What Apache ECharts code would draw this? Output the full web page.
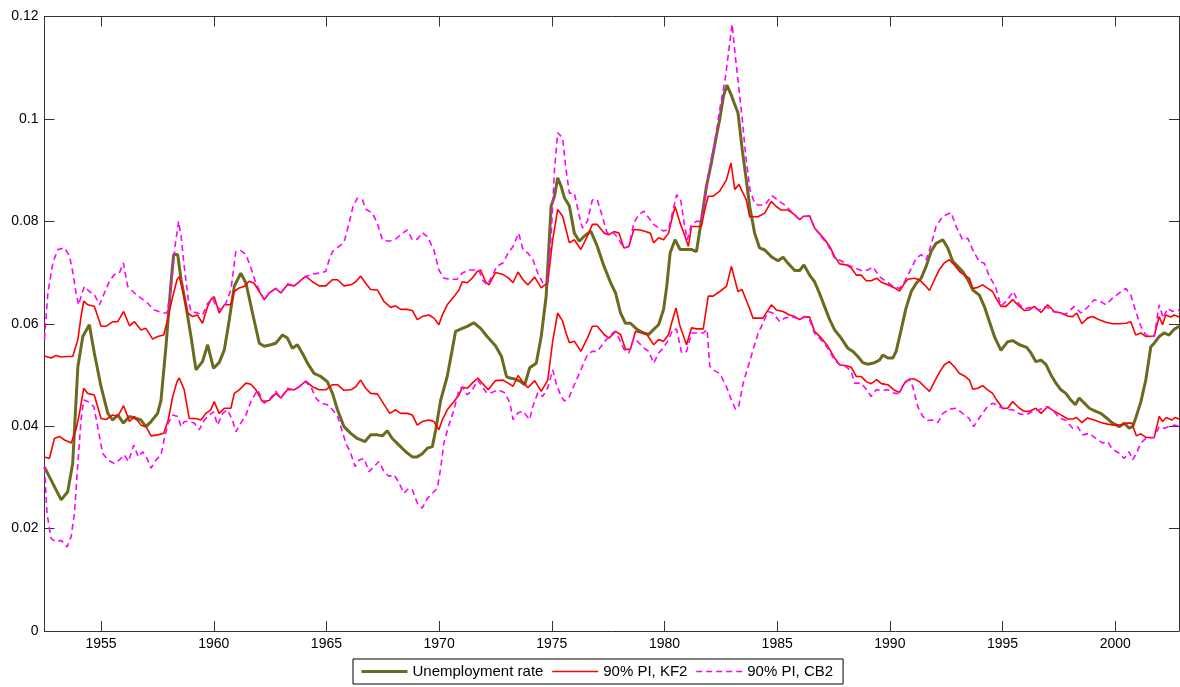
<!DOCTYPE html>
<html>
<head>
<meta charset="utf-8">
<script src="https://cdn.jsdelivr.net/npm/echarts@6/dist/echarts.min.js"></script>
<style>
  html, body { margin: 0; padding: 0; background: #fff; }
  #chart { width: 1180px; height: 687px; }
</style>
</head>
<body>
<div id="chart"></div>
<script>
// Quarterly-ish readings: [year, rate]
const unemploymentRate = [
  [1952.49,0.0320],[1953.23,0.0256],[1953.52,0.0272],[1953.74,0.0327],[1953.97,0.0516],[1954.19,0.0575],
  [1954.48,0.0598],[1954.70,0.0543],[1955.00,0.0477],[1955.30,0.0425],[1955.52,0.0412],[1955.74,0.0422],
  [1955.99,0.0406],[1956.26,0.0419],[1956.55,0.0415],[1956.77,0.0412],[1956.99,0.0399],[1957.22,0.0409],
  [1957.51,0.0425],[1957.66,0.0451],[1957.88,0.0556],[1958.10,0.0679],[1958.22,0.0735],[1958.40,0.0735],
  [1958.55,0.0686],[1958.77,0.0634],[1958.99,0.0575],[1959.21,0.0510],[1959.50,0.0526],[1959.73,0.0559],
  [1959.99,0.0513],[1960.24,0.0524],[1960.47,0.0549],[1960.69,0.0608],[1960.91,0.0673],[1961.20,0.0699],
  [1961.43,0.0679],[1961.72,0.0621],[1962.02,0.0562],[1962.24,0.0556],[1962.53,0.0559],[1962.75,0.0562],
  [1963.05,0.0578],[1963.27,0.0572],[1963.49,0.0552],[1963.71,0.0559],[1963.94,0.0542],[1964.16,0.0523],
  [1964.45,0.0503],[1964.75,0.0497],[1965.04,0.0487],[1965.27,0.0464],[1965.49,0.0432],[1965.78,0.0399],
  [1966.08,0.0386],[1966.37,0.0376],[1966.71,0.0370],[1966.96,0.0383],[1967.26,0.0383],[1967.48,0.0381],
  [1967.70,0.0391],[1967.92,0.0376],[1968.22,0.0363],[1968.52,0.0350],[1968.81,0.0340],[1969.03,0.0340],
  [1969.25,0.0346],[1969.48,0.0357],[1969.70,0.0360],[1969.85,0.0393],[1970.07,0.0451],[1970.36,0.0497],
  [1970.58,0.0549],[1970.73,0.0585],[1971.03,0.0591],[1971.25,0.0595],[1971.54,0.0602],[1971.84,0.0591],
  [1972.13,0.0575],[1972.50,0.0557],[1972.77,0.0536],[1972.99,0.0497],[1973.14,0.0494],[1973.36,0.0492],
  [1973.58,0.0488],[1973.80,0.0481],[1974.02,0.0514],[1974.31,0.0523],[1974.53,0.0575],[1974.75,0.0654],
  [1974.97,0.0830],[1975.12,0.0849],[1975.26,0.0885],[1975.41,0.0869],[1975.56,0.0846],[1975.78,0.0830],
  [1976.00,0.0777],[1976.22,0.0761],[1976.44,0.0771],[1976.73,0.0781],[1977.02,0.0751],[1977.32,0.0712],
  [1977.61,0.0680],[1977.83,0.0660],[1978.05,0.0621],[1978.27,0.0601],[1978.49,0.0601],[1978.78,0.0589],
  [1979.08,0.0582],[1979.30,0.0579],[1979.52,0.0589],[1979.74,0.0598],[1979.96,0.0628],[1980.10,0.0673],
  [1980.25,0.0738],[1980.47,0.0764],[1980.69,0.0745],[1980.98,0.0745],[1981.20,0.0745],[1981.42,0.0741],
  [1981.64,0.0803],[1981.86,0.0868],[1982.08,0.0914],[1982.30,0.0966],[1982.45,0.0999],[1982.62,0.1045],
  [1982.77,0.1066],[1982.95,0.1048],[1983.10,0.1030],[1983.26,0.1012],[1983.45,0.0940],[1983.63,0.0881],
  [1983.78,0.0829],[1984.00,0.0777],[1984.22,0.0748],[1984.45,0.0744],[1984.74,0.0731],[1985.04,0.0723],
  [1985.26,0.0730],[1985.48,0.0718],[1985.78,0.0704],[1986.00,0.0704],[1986.19,0.0715],[1986.44,0.0695],
  [1986.66,0.0682],[1986.88,0.0659],[1987.10,0.0634],[1987.33,0.0608],[1987.55,0.0588],[1987.84,0.0572],
  [1988.14,0.0552],[1988.36,0.0546],[1988.58,0.0536],[1988.80,0.0524],[1989.02,0.0521],[1989.32,0.0524],
  [1989.54,0.0529],[1989.69,0.0539],[1989.91,0.0533],[1990.13,0.0533],[1990.28,0.0546],[1990.50,0.0588],
  [1990.72,0.0631],[1990.95,0.0663],[1991.17,0.0679],[1991.39,0.0689],[1991.61,0.0712],[1991.83,0.0741],
  [1992.05,0.0757],[1992.35,0.0764],[1992.57,0.0748],[1992.79,0.0722],[1993.01,0.0712],[1993.23,0.0702],
  [1993.46,0.0686],[1993.68,0.0666],[1993.97,0.0656],[1994.19,0.0634],[1994.42,0.0604],[1994.64,0.0575],
  [1994.93,0.0548],[1995.23,0.0565],[1995.45,0.0567],[1995.75,0.0559],[1996.07,0.0554],[1996.26,0.0543],
  [1996.48,0.0526],[1996.71,0.0529],[1996.93,0.0520],[1997.15,0.0500],[1997.37,0.0484],[1997.59,0.0471],
  [1997.81,0.0464],[1998.03,0.0451],[1998.23,0.0442],[1998.40,0.0455],[1998.63,0.0445],[1998.85,0.0435],
  [1999.14,0.0429],[1999.36,0.0425],[1999.59,0.0417],[1999.88,0.0406],[2000.18,0.0399],[2000.40,0.0406],
  [2000.62,0.0396],[2000.77,0.0399],[2000.91,0.0416],[2001.14,0.0448],[2001.36,0.0491],[2001.58,0.0555],
  [2001.73,0.0562],[2001.95,0.0575],[2002.17,0.0582],[2002.39,0.0578],[2002.61,0.0589],[2002.83,0.0595]
];

// 90% prediction interval, KF2: upper bound
const kf2Upper = [
  [1952.49,0.0537],[1952.78,0.0533],[1953.00,0.0538],[1953.23,0.0535],[1953.52,0.0536],[1953.74,0.0536],
  [1953.97,0.0569],[1954.11,0.0614],[1954.23,0.0644],[1954.41,0.0637],[1954.70,0.0634],[1955.00,0.0595],
  [1955.22,0.0595],[1955.52,0.0604],[1955.74,0.0604],[1956.00,0.0624],[1956.26,0.0596],[1956.48,0.0604],
  [1956.77,0.0588],[1956.99,0.0591],[1957.29,0.0570],[1957.51,0.0575],[1957.78,0.0578],[1957.95,0.0608],
  [1958.18,0.0653],[1958.37,0.0686],[1958.47,0.0692],[1958.62,0.0666],[1958.84,0.0621],[1959.06,0.0614],
  [1959.28,0.0617],[1959.50,0.0601],[1959.73,0.0634],[1959.87,0.0647],[1960.02,0.0653],[1960.24,0.0621],
  [1960.47,0.0637],[1960.76,0.0637],[1960.91,0.0663],[1961.13,0.0670],[1961.35,0.0673],[1961.57,0.0683],
  [1961.79,0.0679],[1962.02,0.0663],[1962.24,0.0647],[1962.46,0.0660],[1962.75,0.0669],[1962.98,0.0660],
  [1963.27,0.0676],[1963.57,0.0674],[1963.79,0.0682],[1964.08,0.0693],[1964.38,0.0682],[1964.68,0.0674],
  [1964.97,0.0674],[1965.27,0.0686],[1965.49,0.0686],[1965.78,0.0674],[1966.08,0.0676],[1966.30,0.0682],
  [1966.52,0.0693],[1966.74,0.0679],[1966.96,0.0667],[1967.26,0.0666],[1967.56,0.0643],[1967.85,0.0632],
  [1968.07,0.0635],[1968.29,0.0628],[1968.59,0.0628],[1968.81,0.0626],[1969.03,0.0608],[1969.25,0.0614],
  [1969.55,0.0617],[1969.77,0.0611],[1969.99,0.0598],[1970.14,0.0617],[1970.36,0.0637],[1970.66,0.0653],
  [1970.88,0.0666],[1971.03,0.0682],[1971.25,0.0680],[1971.47,0.0689],[1971.69,0.0702],[1971.84,0.0705],
  [1972.06,0.0682],[1972.21,0.0676],[1972.50,0.0700],[1972.84,0.0696],[1973.06,0.0690],[1973.28,0.0680],
  [1973.50,0.0701],[1973.72,0.0686],[1973.94,0.0676],[1974.24,0.0691],[1974.53,0.0670],[1974.82,0.0680],
  [1975.04,0.0764],[1975.26,0.0823],[1975.48,0.0810],[1975.63,0.0784],[1975.78,0.0758],[1976.00,0.0764],
  [1976.29,0.0745],[1976.58,0.0771],[1976.80,0.0794],[1977.02,0.0794],[1977.32,0.0777],[1977.54,0.0774],
  [1977.76,0.0780],[1977.98,0.0777],[1978.20,0.0748],[1978.42,0.0751],[1978.64,0.0784],[1978.93,0.0783],
  [1979.15,0.0780],[1979.37,0.0777],[1979.52,0.0758],[1979.74,0.0768],[1979.96,0.0764],[1980.18,0.0777],
  [1980.32,0.0803],[1980.47,0.0829],[1980.69,0.0797],[1980.91,0.0771],[1981.06,0.0751],[1981.20,0.0790],
  [1981.42,0.0790],[1981.64,0.0790],[1981.79,0.0823],[1981.94,0.0849],[1982.16,0.0849],[1982.45,0.0859],
  [1982.75,0.0881],[1982.95,0.0914],[1983.12,0.0862],[1983.30,0.0872],[1983.63,0.0842],[1983.78,0.0809],
  [1984.15,0.0809],[1984.45,0.0816],[1984.74,0.0839],[1984.96,0.0829],[1985.18,0.0822],[1985.48,0.0822],
  [1985.77,0.0813],[1986.00,0.0803],[1986.14,0.0809],[1986.44,0.0811],[1986.66,0.0787],[1986.88,0.0776],
  [1987.10,0.0765],[1987.33,0.0751],[1987.55,0.0731],[1987.77,0.0717],[1988.06,0.0715],[1988.29,0.0709],
  [1988.51,0.0695],[1988.73,0.0695],[1988.95,0.0684],[1989.17,0.0684],[1989.42,0.0689],[1989.62,0.0681],
  [1989.91,0.0676],[1990.21,0.0670],[1990.43,0.0664],[1990.65,0.0679],[1990.80,0.0687],[1991.09,0.0689],
  [1991.31,0.0686],[1991.54,0.0676],[1991.76,0.0665],[1991.98,0.0686],[1992.20,0.0706],[1992.42,0.0719],
  [1992.64,0.0725],[1992.86,0.0715],[1993.09,0.0702],[1993.31,0.0695],[1993.53,0.0689],[1993.68,0.0669],
  [1993.90,0.0671],[1994.12,0.0676],[1994.34,0.0669],[1994.56,0.0663],[1994.71,0.0650],[1994.93,0.0634],
  [1995.15,0.0634],[1995.45,0.0647],[1995.75,0.0634],[1995.97,0.0626],[1996.19,0.0627],[1996.41,0.0634],
  [1996.71,0.0622],[1997.00,0.0637],[1997.30,0.0624],[1997.59,0.0621],[1997.89,0.0615],[1998.11,0.0614],
  [1998.29,0.0621],[1998.52,0.0600],[1998.77,0.0611],[1998.99,0.0614],[1999.29,0.0608],[1999.59,0.0603],
  [1999.88,0.0600],[2000.18,0.0600],[2000.47,0.0601],[2000.69,0.0604],[2000.91,0.0578],[2001.14,0.0582],
  [2001.36,0.0575],[2001.73,0.0576],[2001.95,0.0614],[2002.10,0.0598],[2002.24,0.0617],[2002.47,0.0613],
  [2002.61,0.0617],[2002.83,0.0613]
];

// 90% prediction interval, KF2: lower bound
const kf2Lower = [
  [1952.49,0.0340],[1952.71,0.0337],[1952.93,0.0376],[1953.15,0.0380],[1953.38,0.0373],[1953.67,0.0367],
  [1953.89,0.0393],[1954.04,0.0425],[1954.23,0.0474],[1954.41,0.0464],[1954.70,0.0461],[1955.00,0.0415],
  [1955.22,0.0413],[1955.52,0.0422],[1955.74,0.0419],[1956.00,0.0440],[1956.26,0.0409],[1956.48,0.0419],
  [1956.77,0.0402],[1956.99,0.0399],[1957.22,0.0381],[1957.51,0.0383],[1957.78,0.0386],[1957.98,0.0412],
  [1958.18,0.0458],[1958.37,0.0487],[1958.47,0.0494],[1958.69,0.0471],[1958.91,0.0415],[1959.21,0.0415],
  [1959.43,0.0412],[1959.65,0.0425],[1959.87,0.0432],[1960.02,0.0448],[1960.24,0.0425],[1960.47,0.0435],
  [1960.76,0.0435],[1960.91,0.0464],[1961.13,0.0471],[1961.43,0.0484],[1961.65,0.0482],[1961.87,0.0471],
  [1962.16,0.0448],[1962.46,0.0450],[1962.75,0.0464],[1962.98,0.0455],[1963.27,0.0471],[1963.57,0.0471],
  [1963.79,0.0477],[1964.08,0.0488],[1964.38,0.0477],[1964.68,0.0471],[1964.97,0.0471],[1965.27,0.0481],
  [1965.49,0.0481],[1965.78,0.0470],[1966.08,0.0471],[1966.30,0.0477],[1966.52,0.0490],[1966.74,0.0474],
  [1966.96,0.0464],[1967.26,0.0463],[1967.56,0.0442],[1967.81,0.0425],[1968.07,0.0432],[1968.29,0.0425],
  [1968.59,0.0425],[1968.81,0.0422],[1969.03,0.0402],[1969.25,0.0409],[1969.55,0.0412],[1969.77,0.0409],
  [1969.99,0.0393],[1970.14,0.0412],[1970.36,0.0432],[1970.66,0.0448],[1970.88,0.0461],[1971.03,0.0476],
  [1971.25,0.0474],[1971.47,0.0484],[1971.72,0.0494],[1971.91,0.0484],[1972.18,0.0471],[1972.50,0.0489],
  [1972.84,0.0490],[1973.06,0.0484],[1973.28,0.0478],[1973.50,0.0499],[1973.72,0.0486],[1973.94,0.0475],
  [1974.24,0.0489],[1974.53,0.0468],[1974.82,0.0490],[1975.04,0.0566],[1975.26,0.0621],[1975.48,0.0605],
  [1975.63,0.0582],[1975.78,0.0563],[1976.00,0.0566],[1976.29,0.0546],[1976.58,0.0572],[1976.80,0.0595],
  [1977.02,0.0595],[1977.32,0.0579],[1977.54,0.0572],[1977.83,0.0585],[1978.05,0.0579],[1978.27,0.0550],
  [1978.49,0.0550],[1978.71,0.0585],[1979.00,0.0582],[1979.22,0.0579],[1979.52,0.0559],[1979.74,0.0569],
  [1979.96,0.0566],[1980.18,0.0579],[1980.32,0.0602],[1980.51,0.0631],[1980.69,0.0595],[1980.98,0.0559],
  [1981.20,0.0592],[1981.42,0.0590],[1981.72,0.0590],[1981.94,0.0654],[1982.16,0.0654],[1982.45,0.0663],
  [1982.75,0.0673],[1982.97,0.0712],[1983.26,0.0663],[1983.44,0.0667],[1983.71,0.0637],[1983.93,0.0611],
  [1984.37,0.0611],[1984.74,0.0637],[1984.96,0.0627],[1985.26,0.0624],[1985.55,0.0617],[1985.78,0.0614],
  [1986.00,0.0608],[1986.19,0.0614],[1986.44,0.0613],[1986.66,0.0585],[1986.96,0.0572],[1987.25,0.0556],
  [1987.55,0.0533],[1987.77,0.0520],[1988.06,0.0518],[1988.29,0.0515],[1988.51,0.0497],[1988.73,0.0497],
  [1988.95,0.0487],[1989.17,0.0483],[1989.42,0.0491],[1989.62,0.0483],[1989.91,0.0481],[1990.21,0.0470],
  [1990.43,0.0466],[1990.65,0.0484],[1990.87,0.0492],[1991.09,0.0492],[1991.31,0.0487],[1991.54,0.0477],
  [1991.76,0.0468],[1991.98,0.0487],[1992.20,0.0505],[1992.42,0.0520],[1992.64,0.0526],[1992.86,0.0516],
  [1993.09,0.0503],[1993.31,0.0498],[1993.53,0.0490],[1993.68,0.0472],[1993.90,0.0474],[1994.12,0.0479],
  [1994.34,0.0471],[1994.56,0.0464],[1994.74,0.0451],[1995.01,0.0435],[1995.23,0.0435],[1995.45,0.0448],
  [1995.75,0.0435],[1995.97,0.0429],[1996.19,0.0429],[1996.48,0.0435],[1996.71,0.0425],[1997.00,0.0438],
  [1997.30,0.0429],[1997.59,0.0422],[1997.89,0.0414],[1998.11,0.0414],[1998.29,0.0417],[1998.52,0.0407],
  [1998.77,0.0416],[1999.07,0.0412],[1999.36,0.0407],[1999.66,0.0404],[1999.95,0.0402],[2000.25,0.0402],
  [2000.55,0.0406],[2000.74,0.0406],[2000.94,0.0381],[2001.14,0.0385],[2001.36,0.0378],[2001.73,0.0378],
  [2001.95,0.0419],[2002.10,0.0409],[2002.27,0.0417],[2002.51,0.0412],[2002.66,0.0417],[2002.83,0.0414]
];

// 90% prediction interval, CB2: upper bound
const cb2Upper = [
  [1952.49,0.0570],[1952.64,0.0660],[1952.86,0.0719],[1953.08,0.0745],[1953.38,0.0748],[1953.60,0.0732],
  [1953.74,0.0702],[1953.89,0.0660],[1954.00,0.0637],[1954.11,0.0653],[1954.26,0.0673],[1954.48,0.0663],
  [1954.70,0.0657],[1954.93,0.0637],[1955.12,0.0657],[1955.37,0.0683],[1955.59,0.0696],[1955.81,0.0699],
  [1955.99,0.0719],[1956.18,0.0673],[1956.48,0.0660],[1956.77,0.0650],[1957.07,0.0640],[1957.36,0.0627],
  [1957.73,0.0621],[1957.92,0.0621],[1958.10,0.0666],[1958.28,0.0751],[1958.44,0.0800],[1958.55,0.0771],
  [1958.69,0.0712],[1958.87,0.0647],[1958.99,0.0624],[1959.28,0.0621],[1959.50,0.0617],[1959.73,0.0640],
  [1959.95,0.0650],[1960.10,0.0634],[1960.32,0.0627],[1960.54,0.0640],[1960.76,0.0666],[1960.98,0.0741],
  [1961.20,0.0743],[1961.43,0.0735],[1961.65,0.0709],[1961.87,0.0679],[1962.09,0.0660],[1962.24,0.0647],
  [1962.46,0.0660],[1962.75,0.0669],[1962.98,0.0660],[1963.27,0.0678],[1963.57,0.0674],[1963.79,0.0682],
  [1964.08,0.0692],[1964.38,0.0697],[1964.68,0.0699],[1964.97,0.0702],[1965.12,0.0725],[1965.27,0.0741],
  [1965.56,0.0751],[1965.78,0.0759],[1966.00,0.0796],[1966.18,0.0829],[1966.37,0.0845],[1966.60,0.0842],
  [1966.74,0.0824],[1967.04,0.0816],[1967.26,0.0796],[1967.48,0.0764],[1967.78,0.0761],[1968.07,0.0765],
  [1968.37,0.0777],[1968.59,0.0783],[1968.81,0.0764],[1969.03,0.0765],[1969.25,0.0778],[1969.48,0.0770],
  [1969.77,0.0744],[1969.99,0.0705],[1970.21,0.0689],[1970.51,0.0687],[1970.80,0.0687],[1971.03,0.0699],
  [1971.32,0.0705],[1971.54,0.0705],[1971.77,0.0705],[1971.91,0.0686],[1972.13,0.0676],[1972.36,0.0693],
  [1972.55,0.0712],[1972.84,0.0719],[1973.06,0.0738],[1973.28,0.0751],[1973.53,0.0777],[1973.72,0.0745],
  [1973.94,0.0738],[1974.16,0.0725],[1974.38,0.0699],[1974.60,0.0680],[1974.82,0.0680],[1974.97,0.0771],
  [1975.12,0.0901],[1975.26,0.0973],[1975.48,0.0963],[1975.63,0.0901],[1975.78,0.0855],[1976.00,0.0855],
  [1976.22,0.0810],[1976.36,0.0787],[1976.58,0.0800],[1976.80,0.0842],[1977.02,0.0842],[1977.24,0.0810],
  [1977.46,0.0777],[1977.76,0.0777],[1977.98,0.0764],[1978.20,0.0748],[1978.42,0.0751],[1978.64,0.0797],
  [1978.86,0.0813],[1979.08,0.0820],[1979.30,0.0807],[1979.52,0.0794],[1979.74,0.0787],[1979.96,0.0781],
  [1980.18,0.0784],[1980.37,0.0820],[1980.54,0.0852],[1980.72,0.0842],[1980.87,0.0797],[1981.01,0.0764],
  [1981.20,0.0794],[1981.42,0.0800],[1981.64,0.0800],[1981.79,0.0842],[1981.94,0.0888],[1982.08,0.0924],
  [1982.23,0.0953],[1982.45,0.1018],[1982.70,0.1080],[1982.90,0.1150],[1983.00,0.1185],[1983.15,0.1120],
  [1983.30,0.1060],[1983.45,0.1000],[1983.60,0.0930],[1983.80,0.0860],[1984.00,0.0835],[1984.15,0.0832],
  [1984.45,0.0832],[1984.77,0.0850],[1985.04,0.0841],[1985.33,0.0832],[1985.63,0.0819],[1985.92,0.0806],
  [1986.14,0.0810],[1986.44,0.0810],[1986.66,0.0787],[1986.96,0.0770],[1987.25,0.0754],[1987.55,0.0728],
  [1987.84,0.0723],[1988.14,0.0715],[1988.43,0.0709],[1988.73,0.0704],[1989.02,0.0705],[1989.25,0.0711],
  [1989.54,0.0692],[1989.84,0.0682],[1990.13,0.0674],[1990.43,0.0669],[1990.65,0.0682],[1990.95,0.0708],
  [1991.17,0.0728],[1991.39,0.0735],[1991.61,0.0725],[1991.83,0.0754],[1992.05,0.0790],[1992.35,0.0810],
  [1992.72,0.0817],[1992.94,0.0790],[1993.23,0.0764],[1993.46,0.0767],[1993.68,0.0744],[1993.97,0.0721],
  [1994.19,0.0718],[1994.42,0.0692],[1994.68,0.0673],[1994.93,0.0635],[1995.15,0.0643],[1995.48,0.0663],
  [1995.75,0.0637],[1996.04,0.0630],[1996.34,0.0632],[1996.63,0.0627],[1996.93,0.0634],[1997.22,0.0624],
  [1997.52,0.0621],[1997.81,0.0619],[1998.18,0.0634],[1998.48,0.0621],[1998.77,0.0632],[1999.07,0.0647],
  [1999.36,0.0643],[1999.59,0.0637],[1999.88,0.0650],[2000.18,0.0660],[2000.47,0.0669],[2000.69,0.0656],
  [2000.91,0.0624],[2001.14,0.0595],[2001.36,0.0578],[2001.73,0.0575],[2001.95,0.0637],[2002.13,0.0611],
  [2002.32,0.0630],[2002.54,0.0624],[2002.83,0.0627]
];

// 90% prediction interval, CB2: lower bound
const cb2Lower = [
  [1952.49,0.0320],[1952.60,0.0230],[1952.78,0.0181],[1953.00,0.0174],[1953.23,0.0177],[1953.49,0.0164],
  [1953.67,0.0184],[1953.82,0.0230],[1953.97,0.0327],[1954.11,0.0412],[1954.23,0.0451],[1954.41,0.0448],
  [1954.68,0.0438],[1954.85,0.0399],[1955.07,0.0347],[1955.30,0.0334],[1955.59,0.0327],[1955.81,0.0334],
  [1956.03,0.0344],[1956.21,0.0331],[1956.45,0.0363],[1956.65,0.0340],[1956.85,0.0350],[1957.04,0.0337],
  [1957.22,0.0318],[1957.44,0.0334],[1957.66,0.0344],[1957.81,0.0376],[1957.98,0.0406],[1958.18,0.0422],
  [1958.40,0.0419],[1958.55,0.0399],[1958.69,0.0409],[1958.91,0.0409],[1959.14,0.0406],[1959.36,0.0393],
  [1959.58,0.0412],[1959.80,0.0422],[1959.99,0.0428],[1960.17,0.0402],[1960.39,0.0425],[1960.61,0.0432],
  [1960.83,0.0412],[1960.98,0.0389],[1961.20,0.0406],[1961.43,0.0422],[1961.65,0.0448],[1961.94,0.0471],
  [1962.24,0.0445],[1962.46,0.0451],[1962.75,0.0468],[1962.98,0.0455],[1963.27,0.0474],[1963.57,0.0471],
  [1963.79,0.0477],[1964.05,0.0487],[1964.31,0.0477],[1964.53,0.0455],[1964.75,0.0445],[1965.04,0.0442],
  [1965.27,0.0432],[1965.49,0.0420],[1965.68,0.0393],[1965.86,0.0367],[1966.08,0.0347],[1966.27,0.0321],
  [1966.45,0.0334],[1966.67,0.0337],[1966.89,0.0311],[1967.11,0.0321],[1967.33,0.0331],[1967.56,0.0311],
  [1967.78,0.0302],[1968.00,0.0305],[1968.19,0.0292],[1968.44,0.0269],[1968.66,0.0279],[1968.81,0.0276],
  [1969.03,0.0250],[1969.25,0.0240],[1969.48,0.0259],[1969.70,0.0269],[1969.92,0.0279],[1970.07,0.0318],
  [1970.21,0.0367],[1970.41,0.0399],[1970.66,0.0432],[1970.88,0.0471],[1971.03,0.0477],[1971.25,0.0461],
  [1971.47,0.0471],[1971.72,0.0490],[1971.91,0.0477],[1972.13,0.0464],[1972.36,0.0466],[1972.62,0.0471],
  [1972.92,0.0465],[1973.14,0.0445],[1973.28,0.0413],[1973.50,0.0426],[1973.72,0.0429],[1974.02,0.0413],
  [1974.16,0.0439],[1974.38,0.0465],[1974.60,0.0458],[1974.82,0.0475],[1975.04,0.0510],[1975.19,0.0484],
  [1975.41,0.0458],[1975.56,0.0449],[1975.78,0.0458],[1976.00,0.0481],[1976.29,0.0510],[1976.58,0.0540],
  [1976.80,0.0546],[1977.02,0.0546],[1977.24,0.0559],[1977.54,0.0576],[1977.79,0.0585],[1977.98,0.0572],
  [1978.20,0.0550],[1978.42,0.0543],[1978.64,0.0572],[1978.86,0.0563],[1979.08,0.0553],[1979.30,0.0546],
  [1979.52,0.0523],[1979.74,0.0543],[1979.96,0.0553],[1980.18,0.0569],[1980.37,0.0589],[1980.54,0.0589],
  [1980.76,0.0543],[1980.98,0.0546],[1981.20,0.0582],[1981.42,0.0582],[1981.72,0.0582],[1981.89,0.0589],
  [1982.01,0.0517],[1982.23,0.0508],[1982.45,0.0503],[1982.75,0.0477],[1982.97,0.0451],[1983.15,0.0433],
  [1983.29,0.0438],[1983.49,0.0484],[1983.71,0.0516],[1983.93,0.0549],[1984.15,0.0581],[1984.37,0.0601],
  [1984.59,0.0624],[1984.81,0.0621],[1985.11,0.0604],[1985.33,0.0611],[1985.63,0.0614],[1985.85,0.0611],
  [1986.04,0.0608],[1986.22,0.0614],[1986.44,0.0608],[1986.66,0.0581],[1986.96,0.0568],[1987.25,0.0552],
  [1987.55,0.0529],[1987.77,0.0520],[1988.06,0.0516],[1988.29,0.0507],[1988.43,0.0484],[1988.73,0.0484],
  [1988.95,0.0472],[1989.17,0.0458],[1989.39,0.0471],[1989.62,0.0470],[1989.91,0.0471],[1990.21,0.0464],
  [1990.43,0.0464],[1990.65,0.0487],[1990.87,0.0490],[1991.02,0.0477],[1991.24,0.0438],[1991.46,0.0419],
  [1991.68,0.0411],[1991.90,0.0412],[1992.13,0.0407],[1992.35,0.0425],[1992.64,0.0433],[1992.94,0.0435],
  [1993.23,0.0425],[1993.50,0.0416],[1993.72,0.0399],[1993.97,0.0416],[1994.27,0.0435],[1994.56,0.0445],
  [1994.86,0.0438],[1995.15,0.0432],[1995.45,0.0432],[1995.75,0.0424],[1996.04,0.0422],[1996.34,0.0429],
  [1996.63,0.0432],[1996.93,0.0438],[1997.22,0.0432],[1997.52,0.0416],[1997.81,0.0411],[1998.11,0.0396],
  [1998.33,0.0399],[1998.55,0.0383],[1998.85,0.0386],[1999.14,0.0376],[1999.44,0.0367],[1999.66,0.0370],
  [1999.88,0.0355],[2000.18,0.0347],[2000.40,0.0337],[2000.62,0.0350],[2000.77,0.0334],[2000.94,0.0347],
  [2001.14,0.0367],[2001.36,0.0376],[2001.73,0.0378],[2001.95,0.0399],[2002.17,0.0396],[2002.39,0.0399],
  [2002.61,0.0402],[2002.83,0.0400]
];

const yearTicks = [1955, 1960, 1965, 1970, 1975, 1980, 1985, 1990, 1995, 2000];
const xMin = 1952.49;
const xMax = 2002.83;

const FONT = 'Liberation Sans, Arial, Helvetica, sans-serif';
const AXIS_COLOR = '#333333';
const OLIVE = '#6b6b1f';
const RED = '#ff0000';
const MAGENTA = '#ff00ff';

const chart = echarts.init(document.getElementById('chart'), null, { renderer: 'canvas' });

// Axes on all four sides form the box; ticks point inward.
const boxXAxis = (position, showLabels) => ({
  type: 'value',
  position: position,
  min: xMin,
  max: xMax,
  axisLine: { show: true, onZero: false, lineStyle: { color: AXIS_COLOR, width: 1 } },
  axisTick: { show: true, inside: true, length: 10, customValues: yearTicks,
              lineStyle: { color: AXIS_COLOR, width: 1 } },
  axisLabel: { show: showLabels, customValues: yearTicks, color: '#000', fontSize: 14,
               fontFamily: FONT, margin: 6, formatter: v => String(Math.round(v)) },
  splitLine: { show: false }
});

const boxYAxis = (position, showLabels) => ({
  type: 'value',
  position: position,
  min: 0,
  max: 0.12,
  interval: 0.02,
  axisLine: { show: true, onZero: false, lineStyle: { color: AXIS_COLOR, width: 1 } },
  axisTick: { show: true, inside: true, length: 10, lineStyle: { color: AXIS_COLOR, width: 1 } },
  axisLabel: { show: showLabels, color: '#000', fontSize: 14, fontFamily: FONT, margin: 6,
               formatter: v => (v === 0 ? '0' : String(+v.toFixed(2))) },
  splitLine: { show: false }
});

const lineSeries = (name, data, color, width, type, z) => ({
  name: name,
  type: 'line',
  data: data,
  xAxisIndex: 0,
  yAxisIndex: 0,
  symbol: 'none',
  showSymbol: false,
  smooth: false,
  clip: true,
  silent: true,
  z: z,
  lineStyle: { color: color, width: width, type: type },
  itemStyle: { color: color },
  emphasis: { disabled: true }
});

chart.setOption({
  animation: false,
  backgroundColor: '#ffffff',
  grid: { left: 44.5, right: 1, top: 16.5, bottom: 56, containLabel: false },
  xAxis: [boxXAxis('bottom', true), boxXAxis('top', false)],
  yAxis: [boxYAxis('left', true), boxYAxis('right', false)],
  legend: {
    left: 353,
    top: 659,
    orient: 'horizontal',
    padding: [5, 10, 5, 7],
    itemGap: 8,
    itemWidth: 46,
    itemHeight: 14,
    borderColor: '#000',
    borderWidth: 1,
    backgroundColor: '#fff',
    selectedMode: false,
    // keep only the line sample in each key, no marker dot
    itemStyle: { opacity: 0, color: 'rgba(0,0,0,0)', borderColor: 'rgba(0,0,0,0)', borderWidth: 0 },
    textStyle: { color: '#000', fontSize: 15, fontFamily: FONT },
    data: [
      { name: 'Unemployment rate', lineStyle: { width: 3 } },
      { name: '90% PI, KF2', lineStyle: { width: 1.6 } },
      { name: '90% PI, CB2', lineStyle: { width: 1.6 } }
    ]
  },
  series: [
    lineSeries('Unemployment rate', unemploymentRate, OLIVE, 3, 'solid', 2),
    lineSeries('90% PI, KF2', kf2Upper, RED, 1.6, 'solid', 3),
    lineSeries('90% PI, KF2', kf2Lower, RED, 1.6, 'solid', 3),
    lineSeries('90% PI, CB2', cb2Upper, MAGENTA, 1.6, [6, 4], 4),
    lineSeries('90% PI, CB2', cb2Lower, MAGENTA, 1.6, [6, 4], 4)
  ]
});
</script>
</body>
</html>
